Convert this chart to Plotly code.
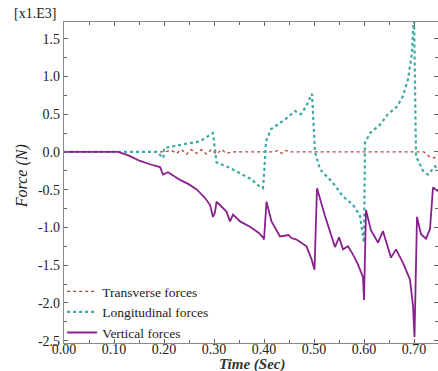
import plotly.graph_objects as go

# Vertical forces (x1e3 N)
t_vert = [0.0, 0.108, 0.13, 0.152, 0.175, 0.192, 0.198, 0.208, 0.222, 0.232, 0.25, 0.266, 0.282, 0.292, 0.298,
          0.302, 0.305, 0.318, 0.325, 0.332, 0.338, 0.352, 0.372, 0.389, 0.394, 0.398, 0.400, 0.405, 0.415,
          0.432, 0.449, 0.455, 0.465, 0.485, 0.495, 0.501, 0.506, 0.522, 0.542, 0.550, 0.558, 0.568,
          0.578, 0.588, 0.598, 0.600, 0.604, 0.614, 0.628, 0.638, 0.654, 0.664, 0.678, 0.692, 0.698,
          0.701, 0.706, 0.714, 0.724, 0.732, 0.738, 0.748]
f_vert = [0.0, 0.0, -0.05, -0.12, -0.17, -0.2, -0.3, -0.27, -0.33, -0.37, -0.43, -0.5, -0.61, -0.7, -0.86,
          -0.8, -0.66, -0.74, -0.79, -0.92, -0.83, -0.92, -0.99, -1.07, -1.1, -1.13, -1.16, -0.66, -0.92,
          -1.12, -1.1, -1.14, -1.16, -1.25, -1.42, -1.56, -0.48, -0.85, -1.26, -1.13, -1.29, -1.25,
          -1.36, -1.49, -1.66, -1.96, -0.77, -1.04, -1.2, -1.05, -1.4, -1.29, -1.47, -1.69, -2.04,
          -2.45, -0.86, -1.09, -1.15, -1.02, -0.47, -0.52]

# Longitudinal forces (x1e3 N)
t_long = [0.0, 0.185, 0.199, 0.200, 0.238, 0.272, 0.298, 0.305, 0.328, 0.348, 0.374, 0.390, 0.398,
          0.401, 0.404, 0.414, 0.442, 0.462, 0.474, 0.484, 0.496, 0.502, 0.512, 0.538, 0.558, 0.578,
          0.592, 0.600, 0.602, 0.612, 0.632, 0.648, 0.666, 0.678, 0.688, 0.696, 0.700, 0.704, 0.718,
          0.728, 0.742, 0.748]
f_long = [0.0, 0.0, -0.08, 0.05, 0.1, 0.14, 0.25, -0.14, -0.2, -0.27, -0.36, -0.45, -0.48,
          -0.2, 0.14, 0.3, 0.43, 0.54, 0.5, 0.6, 0.77, 0.0, -0.23, -0.41, -0.59, -0.7,
          -0.85, -1.2, 0.12, 0.25, 0.36, 0.5, 0.6, 0.74, 0.96, 1.31, 1.85, -0.06, -0.25,
          -0.3, -0.19, -0.23]

# Transverse forces (x1e3 N)
t_trans = [0.0, 0.20, 0.215, 0.225, 0.235, 0.245, 0.255, 0.265, 0.275, 0.285, 0.295, 0.305, 0.315,
           0.325, 0.335, 0.42, 0.428, 0.436, 0.444, 0.452, 0.72, 0.73, 0.74, 0.748]
f_trans = [0.0, 0.0, 0.02, -0.02, 0.03, -0.03, 0.03, -0.02, 0.03, -0.03, 0.03, -0.03, 0.03,
           -0.02, 0.0, 0.0, 0.02, -0.02, 0.02, 0.0, 0.0, -0.06, -0.08, -0.04]

x_tickvals = [0.0, 0.1, 0.2, 0.3, 0.4, 0.5, 0.6, 0.7]
x_ticktext = ["0.00", "0.10", "0.20", "0.30", "0.40", "0.50", "0.60", "0.70"]
y_tickvals = [-2.5, -2.0, -1.5, -1.0, -0.5, 0.0, 0.5, 1.0, 1.5]
y_ticktext = ["-2.5", "-2.0", "-1.5", "-1.0", "-0.5", "0.0", "0.5", "1.0", "1.5"]

serif = "Liberation Serif, Times New Roman, serif"

fig = go.Figure()
fig.add_trace(go.Scatter(x=t_trans, y=f_trans, mode="lines", name="Transverse forces",
                         line=dict(color="#b5403c", width=1.3, dash="dot")))
fig.add_trace(go.Scatter(x=t_long, y=f_long, mode="lines", name="Longitudinal forces",
                         line=dict(color="#3aa9a3", width=2.2, dash="dot")))
fig.add_trace(go.Scatter(x=t_vert, y=f_vert, mode="lines", name="Vertical forces",
                         line=dict(color="#8a1f8f", width=1.8)))

axis_common = dict(showline=True, linecolor="#8a8a8a", linewidth=1.2, mirror="ticks",
                   ticks="inside", ticklen=4, tickcolor="#666", showgrid=False, zeroline=False,
                   tickfont=dict(family=serif, size=14, color="#222"))

fig.update_layout(
    width=438, height=371,
    margin=dict(l=64, r=0, t=22, b=28),
    plot_bgcolor="white", paper_bgcolor="white",
    xaxis=dict(range=[0, 0.748], tickvals=x_tickvals, ticktext=x_ticktext, ticklabelstandoff=-7,
               minor=dict(dtick=0.05, ticks="inside", ticklen=3, tickcolor="#666"), **axis_common),
    yaxis=dict(range=[-2.53, 1.72], tickvals=y_tickvals, ticktext=y_ticktext,
               minor=dict(dtick=0.25, ticks="inside", ticklen=3, tickcolor="#666"), **axis_common),
    showlegend=True,
    legend=dict(x=-0.005, y=-0.016, xanchor="left", yanchor="bottom", bgcolor="rgba(0,0,0,0)",
                font=dict(family=serif, size=13.5, color="#222"), tracegroupgap=0, itemwidth=30),
)
fig.add_annotation(text="[x1.E3]", xref="paper", yref="paper", x=-0.139, y=1.025,
                   xanchor="left", yanchor="middle", showarrow=False,
                   font=dict(family=serif, size=14, color="#222"))
fig.add_annotation(text="<i>Force (N)</i>", xref="paper", yref="paper", x=-0.112, y=0.52,
                   xanchor="center", yanchor="middle", textangle=-90, showarrow=False,
                   font=dict(family=serif, size=16, color="#222"))
fig.add_annotation(text="<b><i>Time (Sec)</i></b>", xref="paper", yref="paper", x=0.505, y=-0.066,
                   xanchor="center", yanchor="middle", showarrow=False,
                   font=dict(family=serif, size=15, color="#333"))

fig.write_html("out.html", config={"displayModeBar": False},
               post_script="document.body.style.margin='0';document.body.style.padding='0';")
